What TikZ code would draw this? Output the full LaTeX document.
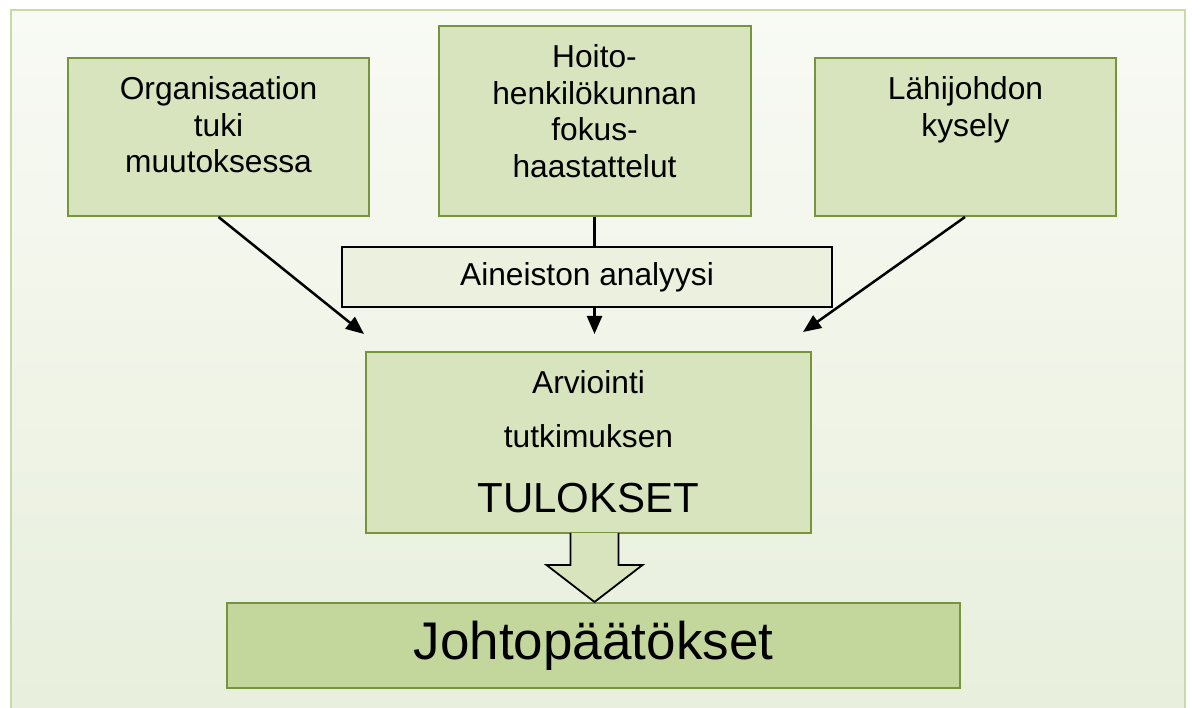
\documentclass[tikz,border=0pt]{standalone}
\usepackage{fontspec}
\setmainfont{Liberation Sans}
\usetikzlibrary{positioning,arrows.meta,calc}

\definecolor{laatikko}{HTML}{D7E4BD}
\definecolor{reuna}{HTML}{77933C}
\definecolor{vaalea}{HTML}{EBF1DE}
\definecolor{tumma}{HTML}{C3D69B}
\definecolor{taustaA}{HTML}{F8FAF4}
\definecolor{taustaB}{HTML}{E8EFDC}
\definecolor{kehys}{HTML}{C6D9A6}

\newcommand{\ylaosa}[3]{\parbox[c][#2][t]{#1}{\centering\vspace*{16pt}\strut #3}}

\begin{document}
\begin{tikzpicture}[x=1pt,y=1pt,node distance=100pt,on grid,
    lahde/.style={draw=reuna,fill=laatikko,line width=2pt,inner sep=0pt,
      font=\fontsize{31.7}{36.5}\selectfont},
    valivaihe/.style={draw=black,fill=vaalea,line width=1.6pt,inner sep=0pt,
      minimum width=490pt,minimum height=60pt,font=\fontsize{31.7}{36.5}\selectfont},
    paatos/.style={draw=reuna,fill=tumma,line width=2pt,inner sep=0pt,
      minimum width=733pt,minimum height=85pt,font=\fontsize{53}{60}\selectfont},
    nuoli/.style={line width=2.5pt,-{Triangle[length=18pt,width=15pt]}}]
   \useasboundingbox (0,0) rectangle (1192,-708);
   \draw[kehys,line width=2pt,top color=taustaA,bottom color=taustaB]
      (11,-10) rectangle (1185,-714);

   \node[lahde] (hoito) at (594.5,-121)
      {\ylaosa{312pt}{190pt}{Hoito-\\henkilökunnan\\fokus-\\haastattelut}};
   \node[lahde] (org) [below left=16pt and 376pt of hoito]
      {\ylaosa{301pt}{158pt}{Organisaation\\tuki\\muutoksessa}};
   \node[lahde] (lahi) [below right=16pt and 371pt of hoito]
      {\ylaosa{301pt}{158pt}{Lähijohdon\\kysely}};
   \node[valivaihe] (analyysi) [below=156pt of hoito,xshift=-7.5pt] {Aineiston analyysi};
   \node[lahde] (tulos) [below=321.5pt of hoito,xshift=-6pt]
      {\ylaosa{445pt}{181pt}{Arviointi\\[17.5pt]tutkimuksen\\[28.5pt]%
       {\fontsize{42}{50}\selectfont TULOKSET}}};
   \node[paatos] (johto) [below=524.5pt of hoito,xshift=-1pt] {Johtopäätökset};

   \coordinate (vasen) at ([shift={(-1pt,17pt)}]tulos.north west);
   \coordinate (oikea) at ([shift={(-9pt,19pt)}]tulos.north east);
   \coordinate (keski) at (hoito.south |- vasen);
   \coordinate (karki) at (hoito.south |- johto.north);

   \draw[line width=2.5pt] (hoito.south) -- (hoito.south |- analyysi.north);
   \path[nuoli]
      (org.south) edge (vasen)
      ([xshift=-0.5pt]lahi.south) edge (oikea)
      (hoito.south |- analyysi.south) edge (keski);

   % paksu nuoli tuloksista johtopaatoksiin
   \fill[laatikko] ($(karki)+(-24,69)$) -- ++(0,-32) -- ++(-24,0) -- (karki)
      -- ++(48,37) -- ++(-24,0) -- ++(0,32) -- cycle;
   \draw[line width=1.8pt,line join=miter] ($(karki)+(-24,69)$) -- ++(0,-32) -- ++(-24,0)
      -- (karki) -- ++(48,37) -- ++(-24,0) -- ++(0,32);
\end{tikzpicture}
\end{document}
